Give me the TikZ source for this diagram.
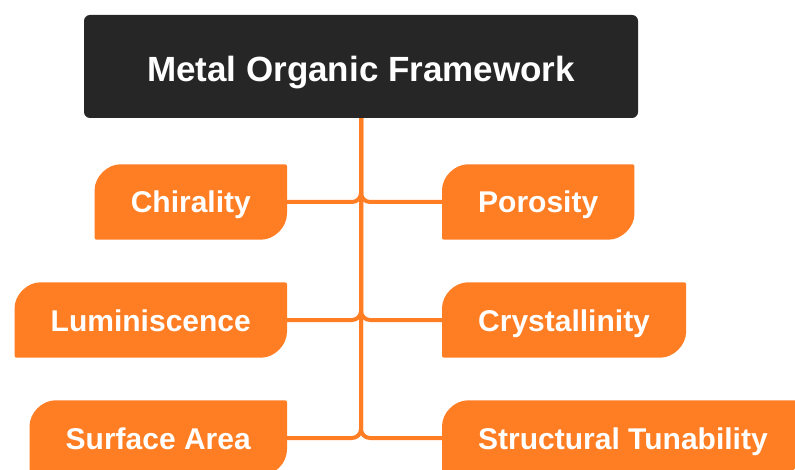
\documentclass[tikz,border=0pt]{standalone}
\usepackage{fontspec}
\setmainfont{Liberation Sans}
\usetikzlibrary{calc,backgrounds}

\definecolor{mofdark}{HTML}{262626}
\definecolor{moforange}{HTML}{FF7D23}

\begin{document}
\begin{tikzpicture}[x=1pt,y=1pt]
	
	% ------------------------------------------------------------
	% Styles
	% ------------------------------------------------------------
	\tikzset{
		rootbox/.style={fill=mofdark,text=white,rounded corners=6pt,
			minimum width=554pt,minimum height=103pt,inner sep=0pt,
			text height=31pt,text depth=0pt,
			font=\fontsize{35}{42}\selectfont\bfseries},
		leaf/.style={text=white,inner xsep=36pt,inner ysep=0pt,
			text height=24pt,text depth=2pt,
			minimum height=75pt,font=\fontsize{30}{36}\selectfont\bfseries},
		leaffill/.style={fill=moforange,rounded corners=2pt},
		branch/.style={draw=moforange,line width=4pt,rounded corners=9pt}
	}
	
	% picture frame (pixels of the reference, y downwards)
	\useasboundingbox (0,0) rectangle (795,-470);
	
	% ============================================================
	% Root
	% ============================================================
	\node[rootbox] (mof) at (361,-66.5) {Metal Organic Framework};
	
	% ============================================================
	% Leaves: left column ends at x=287, right column starts at x=442
	% ============================================================
	\node[leaf,anchor=east] (chir) at (287,-202) {Chirality};
	\node[leaf,anchor=east] (lumi) at (287,-320) {Luminiscence};
	\node[leaf,anchor=east] (surf) at (287,-438) {Surface Area};
	
	\node[leaf,anchor=west] (poro) at (442,-202) {Porosity};
	\node[leaf,anchor=west] (crys) at (442,-320) {Crystallinity};
	\node[leaf,anchor=west] (tune) at (442,-438) {Structural Tunability};
	
	% ============================================================
	% Background: trunk + branches, then leaf shapes
	% ============================================================
	\begin{scope}[on background layer]
		\clip (0,0) rectangle (795,-470);
		
		% branches all run down the same trunk
		\foreach \n in {chir,lumi,surf,poro,crys,tune}
		\draw[branch] (mof.south) |- (\n);
		
		% leaf: big rounded top-left and bottom-right corners
		\foreach \n in {chir,lumi,surf,poro,crys,tune}
		\fill[leaffill] ($(\n.north west)+(0,-28)$) arc[start angle=180,end angle=90,radius=28]
		-- (\n.north east) -- ($(\n.south east)+(0,28)$)
		arc[start angle=0,end angle=-90,radius=28] -- (\n.south west) -- cycle;
	\end{scope}
	
\end{tikzpicture}
\end{document}
